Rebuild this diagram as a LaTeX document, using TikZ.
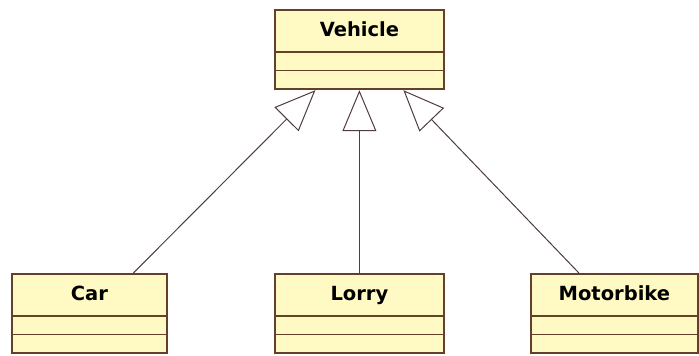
\documentclass[tikz,border=0pt]{standalone}
\usepackage{fontspec}
\setmainfont{DejaVu Sans}
\usepackage{tikz}
\usetikzlibrary{shapes.multipart,arrows.meta,positioning}
\definecolor{classfill}{RGB}{255,250,196}
\definecolor{classline}{RGB}{100,64,40}
\definecolor{genline}{RGB}{80,60,60}

\begin{document}
\begin{tikzpicture}[x=1pt,y=-1pt,
    umlclass/.style={rectangle split,rectangle split parts=3,draw=classline,
      fill=classfill,line width=1.8pt,inner sep=0pt,anchor=north west,
      align=center,font=\bfseries\fontsize{19.5}{20}\selectfont},
    generalize/.style={draw=genline,line width=1pt,
      -{Triangle[open,length=41pt,width=34pt,fill=white]}}]
   \useasboundingbox (0,0) rectangle (699,356);

   % classes
   \node[umlclass,text width=169pt] (vehicle) at (274,9)
     {\rule[-14pt]{0pt}{40pt}Vehicle\nodepart{two}\rule{0pt}{17pt}\nodepart{three}\rule{0pt}{17pt}};
   \node[umlclass,text width=155pt] (car) at (11,273)
     {\rule[-14pt]{0pt}{40pt}Car\nodepart{two}\rule{0pt}{17pt}\nodepart{three}\rule{0pt}{17pt}};
   \node[umlclass,text width=169pt] (lorry) at (274,273)
     {\rule[-14pt]{0pt}{40pt}Lorry\nodepart{two}\rule{0pt}{17pt}\nodepart{three}\rule{0pt}{17pt}};
   \node[umlclass,text width=167pt] (motorbike) at (530,273)
     {\rule[-14pt]{0pt}{40pt}Motorbike\nodepart{two}\rule{0pt}{17pt}\nodepart{three}\rule{0pt}{17pt}};

   % inheritance
   \coordinate (car_top) at ([xshift=44pt]car.north);
   \coordinate (motorbike_top) at ([xshift=-35.5pt]motorbike.north);
   \draw[generalize] (car_top) -- ([xshift=-44pt]vehicle.south);
   \draw[generalize] (lorry.north) -- (vehicle.south);
   \draw[generalize] (motorbike_top) -- ([xshift=44pt]vehicle.south);
\end{tikzpicture}
\end{document}
